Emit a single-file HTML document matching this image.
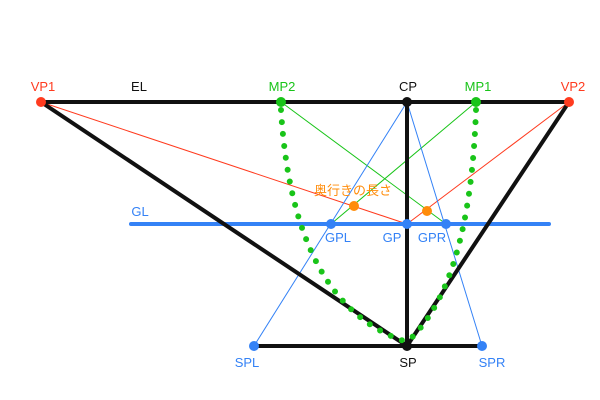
<!DOCTYPE html>
<html><head><meta charset="utf-8"><style>
html,body{margin:0;padding:0;background:#fff;}
svg{display:block;font-family:"Liberation Sans","Noto Sans CJK JP",sans-serif;font-size:13px;}
</style></head><body>
<svg id="c" width="600" height="400" viewBox="0 0 600 400"></svg>
<script>
const pointNames = ["VP1","MP2","CP","MP1","VP2","GPL","GP","GPR","SPL","SP","SPR"];
const pointX = [41,281,407,476,569,331,407,446,254,407,482];
const pointY = [102,102,102,102,102,224,224,224,346,346,346];
const P = n => { const i = pointNames.indexOf(n); return [pointX[i], pointY[i]]; };
const svg = document.getElementById('c');
const NS = 'http://www.w3.org/2000/svg';
function mk(tag, attrs, name){
  const e = document.createElementNS(NS, tag);
  for (const k in attrs) e.setAttribute(k, attrs[k]);
  
  
  svg.appendChild(e); return e;
}
function line(a,b,color,w,name){
  const [x1,y1]=P(a),[x2,y2]=P(b);
  return mk('line',{x1:x1,y1:y1,x2:x2,y2:y2,'stroke':color,'stroke-width':w,'stroke-linecap':'round'},name);
}
const RED='#ff3b1f', GREEN='#19c419', BLUE='#3482f6', ORANGE='#ff8c0a';
line('VP1','GP',RED,1,'red-line-vp1-gp');
line('VP2','GP',RED,1,'red-line-vp2-gp');
line('MP1','GPL',GREEN,1,'green-line-mp1-gpl');
line('MP2','GPR',GREEN,1,'green-line-mp2-gpr');
line('CP','SPL',BLUE,1,'blue-line-cp-spl');
line('CP','SPR',BLUE,1,'blue-line-cp-spr');
mk('line',{x1:131,y1:224,x2:549,y2:224,'stroke':BLUE,'stroke-width':4,'stroke-linecap':'round'},'ground-line');
mk('line',{x1:41,y1:102,x2:569,y2:102,'stroke':'#111','stroke-width':4},'eye-level-line');
line('VP1','SP','#111',4,'black-line-vp1-sp');
line('VP2','SP','#111',4,'black-line-vp2-sp');
line('CP','SP','#111',4,'black-line-cp-sp');
line('SPL','SPR','#111',4,'station-line');
const [m2x,m2y]=P('MP2'),[m1x,m1y]=P('MP1'),[sx,sy]=P('SP');
mk('path',{d:`M${m2x},${m2y+8} Q${m2x+12},${sy-40} ${sx},${sy-4}`,'fill':'none','stroke':GREEN,'stroke-width':6,'stroke-dasharray':'0 12','stroke-linecap':'round'},'dotted-arc-left');
mk('path',{d:`M${m1x},${m1y+8} Q${m1x-6},${sy-60} ${sx},${sy-4}`,'fill':'none','stroke':GREEN,'stroke-width':6,'stroke-dasharray':'0 12','stroke-linecap':'round'},'dotted-arc-right');
const ptColors={VP1:RED,VP2:RED,MP1:GREEN,MP2:GREEN,CP:'#111',SP:'#111',GP:BLUE,GPL:BLUE,GPR:BLUE,SPL:BLUE,SPR:BLUE};
pointNames.forEach((n,i)=>{
  mk('circle',{cx:pointX[i],cy:pointY[i],r:5,'fill':ptColors[n]},'point-'+n.toLowerCase());
});
mk('circle',{cx:354,cy:206,r:5,'fill':ORANGE},'depth-point-left');
mk('circle',{cx:427,cy:211,r:5,'fill':ORANGE},'depth-point-right');
const labels=[["VP1",43,91,RED],["EL",139,91,'#111'],["MP2",282,91,GREEN],["CP",408,91,'#111'],["MP1",478,91,GREEN],["VP2",573,91,RED],
["GL",140,216,BLUE],["GPL",338,242,BLUE],["GP",392,242,BLUE],["GPR",432,242,BLUE],["SPL",247,367,BLUE],["SP",408,367,'#111'],["SPR",492,367,BLUE]];
labels.forEach(l=>{
  const t=mk('text',{x:l[1],y:l[2],'fill':l[3],'text-anchor':'middle'},'label-'+l[0].toLowerCase());
  t.textContent=l[0];
});
const dt=mk('text',{x:353,y:195,'fill':ORANGE,'text-anchor':'middle'},'depth-length-label');
dt.textContent='奥行きの長さ';
</script>
</body></html>
